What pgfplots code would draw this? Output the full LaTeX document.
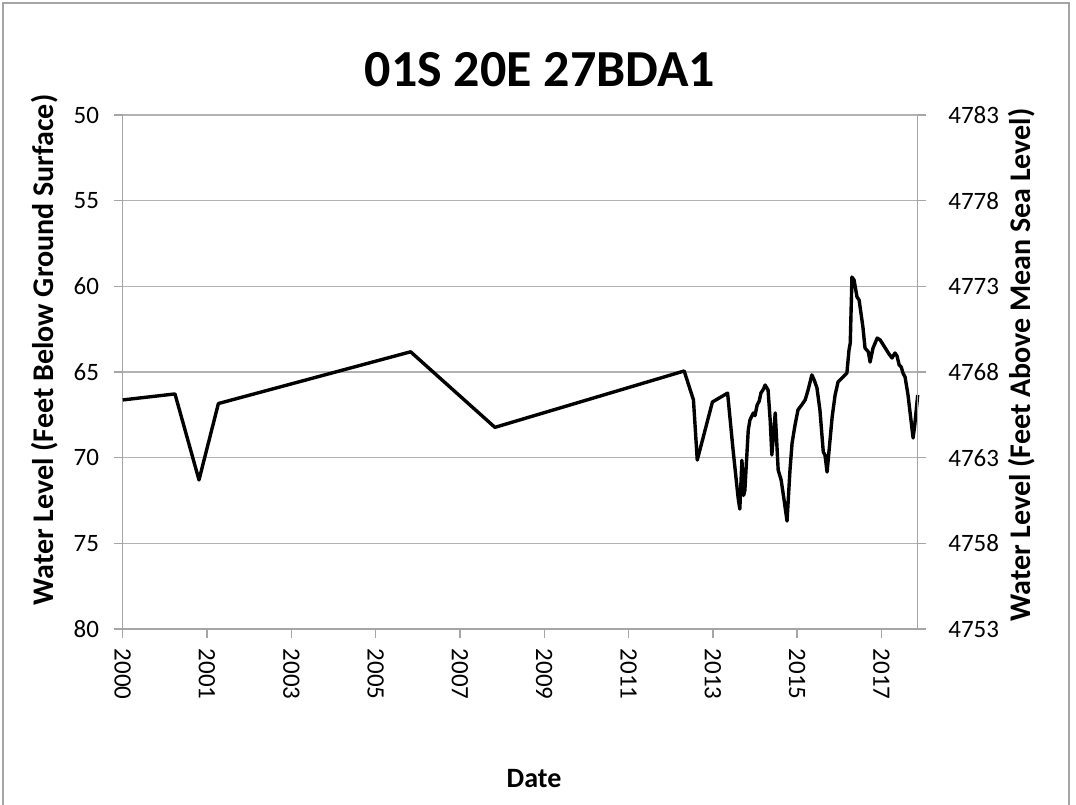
\documentclass[border=0pt]{standalone}
\usepackage{fontspec}
\setmainfont{Carlito}
\usepackage{pgfplots}
\usepackage{pgfplotstable}
\pgfplotsset{compat=1.18}
\definecolor{gridgray}{RGB}{178,178,178}
\definecolor{axgray}{RGB}{165,165,165}

\pgfplotstableread{
year depth
2000.00 66.63
2001.24 66.28
2001.81 71.30
2002.27 66.84
2006.83 63.82
2008.83 68.23
2013.32 64.94
2013.54 66.63
2013.63 70.14
2013.99 66.75
2014.35 66.23
2014.48 69.55
2014.60 72.35
2014.64 73.00
2014.69 70.15
2014.73 72.20
2014.76 71.90
2014.84 68.39
2014.88 67.80
2014.96 67.39
2015.00 67.55
2015.05 66.93
2015.10 66.70
2015.14 66.23
2015.20 66.00
2015.24 65.76
2015.31 66.05
2015.36 67.80
2015.40 69.84
2015.48 67.39
2015.55 70.72
2015.62 71.30
2015.69 72.47
2015.76 73.70
2015.83 70.72
2015.88 69.14
2015.95 68.09
2016.02 67.21
2016.10 66.95
2016.19 66.63
2016.26 66.05
2016.33 65.35
2016.35 65.17
2016.41 65.50
2016.47 65.93
2016.54 67.21
2016.62 69.67
2016.66 69.84
2016.71 70.84
2016.78 68.97
2016.83 67.63
2016.90 66.35
2016.97 65.58
2017.09 65.29
2017.18 65.06
2017.23 63.72
2017.26 63.31
2017.30 59.46
2017.35 59.63
2017.42 60.62
2017.47 60.80
2017.56 62.37
2017.61 63.60
2017.69 63.83
2017.73 64.42
2017.80 63.60
2017.90 63.02
2017.97 63.13
2018.09 63.60
2018.18 63.95
2018.25 64.18
2018.32 63.89
2018.37 64.07
2018.42 64.59
2018.47 64.71
2018.51 65.06
2018.56 65.29
2018.63 66.34
2018.70 67.80
2018.75 68.85
2018.79 68.09
2018.86 66.34
}\wl

\begin{document}
\begin{tikzpicture}
\useasboundingbox (0,0) rectangle (538pt,402pt);
\draw[axgray, line width=0.6pt] (1.5pt,-2pt) -- (1.5pt,400.5pt) -- (534.5pt,400.5pt) -- (534.5pt,-2pt);
\begin{axis}[
  at={(61.35pt,87.5pt)}, anchor=south west,
  scale only axis, width=397.5pt, height=257pt,
  xmin=2000, xmax=2018.86,
  ymin=50, ymax=80, y dir=reverse,
  xtick={2000,2002,...,2018},
  xticklabels={2000,2001,2003,2005,2007,2009,2011,2013,2015,2017},
  ytick={50,55,...,80},
  axis x line*=bottom, axis y line*=left,
  axis line style={axgray, line width=0.7pt, -},
  ymajorgrids, grid style={gridgray, line width=0.7pt},
  tick style={axgray, line width=0.7pt}, tick align=outside,
  major tick length=4.3pt,
  /pgf/number format/assume math mode=true,
  ticklabel style={font=\fontsize{12.5}{15}\selectfont},
  xticklabel style={rotate=-90, anchor=west},
  xticklabel shift=2pt,
  yticklabel shift=4pt,
  clip=false,
]
\addplot[black, line width=1.7pt, line join=round] table[x=year, y=depth] {\wl};
\end{axis}
\begin{axis}[
  at={(61.35pt,87.5pt)}, anchor=south west,
  scale only axis, width=397.5pt, height=257pt,
  xmin=2000, xmax=2018.86,
  ymin=4753, ymax=4783,
  ytick={4753,4758,...,4783},
  axis x line=none, axis y line*=right,
  axis line style={axgray, line width=0.7pt, -},
  tick style={axgray, line width=0.7pt}, tick align=outside,
  major tick length=4.3pt,
  /pgf/number format/assume math mode=true,
  /pgf/number format/1000 sep={},
  ticklabel style={font=\fontsize{12.5}{15}\selectfont},
  yticklabel shift=7.5pt,
]
\end{axis}
\node[font=\bfseries\fontsize{26}{30}\selectfont] at (270pt,367pt) {01S 20E 27BDA1};
\node[rotate=90, font=\bfseries\fontsize{15}{18}\selectfont] at (22.5pt,227pt) {Water Level (Feet Below Ground Surface)};
\node[rotate=90, font=\bfseries\fontsize{15}{18}\selectfont] at (511pt,219.5pt) {Water Level (Feet Above Mean Sea Level)};
\node[font=\bfseries\fontsize{14}{16}\selectfont] at (267pt,12.5pt) {Date};
\end{tikzpicture}
\end{document}
